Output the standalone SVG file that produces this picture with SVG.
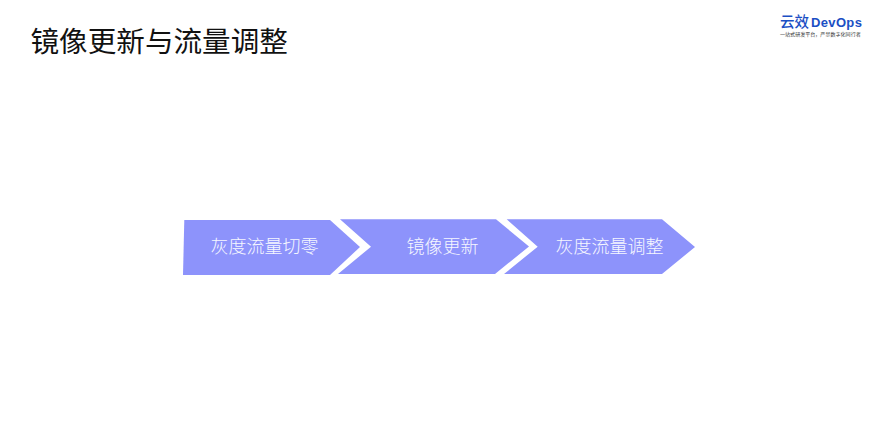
<svg xmlns="http://www.w3.org/2000/svg" width="880" height="444" viewBox="0 0 880 444">
<style>
text{font-family:"Noto Sans CJK SC","Liberation Sans",sans-serif}
.chev{fill:#8d93fb}
.lbl{font-size:18px;fill:#f6f7ff;text-anchor:middle;font-weight:300}
.title{font-size:28.6px;fill:#111}
.logo{fill:#1b4fc4}
</style>
<rect width="880" height="444" fill="#fff"/>
<text class="title" x="30.5" y="52">镜像更新与流量调整</text>
<g id="logo">
<text class="logo" x="780" y="27" font-size="14.5" font-weight="500">云效</text>
<text class="logo" x="811" y="27" font-size="13" font-weight="700" style="font-family:'Liberation Sans',sans-serif" letter-spacing="0.35">DevOps</text>
<text x="780" y="36" font-size="5.05" fill="#333">一站式研发平台，严禁数字化同行者</text>
</g>
<g id="step1">
<polygon class="chev" points="184.3,220 330,220 360,247 330,275 183,275"/>
<text class="lbl" x="264.5" y="253">灰度流量切零</text>
</g>
<g id="step2">
<polygon class="chev" points="340,219.3 496,219.3 529,246.5 495,274 338,274 371,246.7"/>
<text class="lbl" x="442.5" y="252.5">镜像更新</text>
</g>
<g id="step3">
<polygon class="chev" points="506.7,219.3 662,219.3 695,247 662,274 504,274 537.7,246.7"/>
<text class="lbl" x="609.5" y="252.5">灰度流量调整</text>
</g>
</svg>
